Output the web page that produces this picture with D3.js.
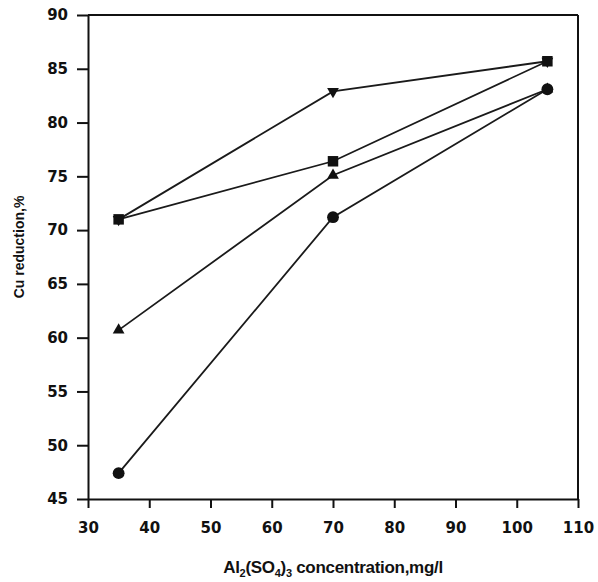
<!DOCTYPE html>
<html>
<head>
<meta charset="utf-8">
<script src="https://cdn.jsdelivr.net/npm/d3@7"></script>
<style>
  html, body { margin: 0; padding: 0; background: #fff; }
  svg { display: block; }
</style>
</head>
<body>
<svg id="chart" width="598" height="582"></svg>
<script>
// ---- data ----
const xValues = [35, 70, 105];
const seriesSquare = [71.0, 76.4, 85.7];
const seriesDownTriangle = [71.0, 82.9, 85.7];
const seriesUpTriangle = [60.7, 75.1, 83.1];
const seriesCircle = [47.4, 71.2, 83.1];
const xTicks = [30, 40, 50, 60, 70, 80, 90, 100, 110];
const yTicks = [45, 50, 55, 60, 65, 70, 75, 80, 85, 90];

const series = [
  { name: "downTriangle", values: seriesDownTriangle, symbol: d3.symbolTriangle, rotate: 180, size: 60 },
  { name: "upTriangle", values: seriesUpTriangle, symbol: d3.symbolTriangle, rotate: 0, size: 60 },
  { name: "square", values: seriesSquare, symbol: d3.symbolSquare, rotate: 0, size: 110 },
  { name: "circle", values: seriesCircle, symbol: d3.symbolCircle, rotate: 0, size: 110 }
];

const svg = d3.select("#chart");
const mLeft = 88, mRight = 578, mTop = 15, mBottom = 499;
const x = d3.scaleLinear().domain([30, 110]).range([mLeft, mRight]);
const y = d3.scaleLinear().domain([45, 90]).range([mBottom, mTop]);

const tickFont = "'DejaVu Sans', sans-serif";
const titleFont = "'Liberation Sans', Arial, sans-serif";

// frame lines (top and right)
svg.append("line").attr("x1", mLeft).attr("x2", mRight).attr("y1", y(90)).attr("y2", y(90))
  .attr("stroke", "#111").attr("stroke-width", 2);
svg.append("line").attr("x1", x(110)).attr("x2", x(110)).attr("y1", mTop).attr("y2", mBottom)
  .attr("stroke", "#111").attr("stroke-width", 2);

// axes
const xAxis = svg.append("g").attr("transform", `translate(0,${mBottom})`)
  .call(d3.axisBottom(x).tickValues(xTicks).tickSize(9).tickPadding(14).tickSizeOuter(0));
const yAxis = svg.append("g").attr("transform", `translate(${mLeft},0)`)
  .call(d3.axisLeft(y).tickValues(yTicks).tickSize(11).tickPadding(9).tickSizeOuter(0));

[xAxis, yAxis].forEach(g => {
  g.select(".domain").attr("stroke", "#111").attr("stroke-width", 2);
  g.selectAll(".tick line").attr("stroke", "#111").attr("stroke-width", 2);
  g.selectAll(".tick text").attr("fill", "#111")
    .style("font-family", tickFont).style("font-size", "15px").style("font-weight", "bold");
});

// lines
const line = d3.line().x((d, i) => x(xValues[i])).y(d => y(d));
series.forEach(s => {
  svg.append("path").datum(s.values).attr("d", line)
    .attr("fill", "none").attr("stroke", "#1a1a1a").attr("stroke-width", 1.8);
});

// markers
series.forEach(s => {
  svg.append("g").selectAll("path").data(s.values).join("path")
    .attr("d", d3.symbol().type(s.symbol).size(s.size))
    .attr("transform", (d, i) => `translate(${x(xValues[i])},${y(d)}) rotate(${s.rotate})`)
    .attr("fill", "#111");
});

// axis titles
svg.append("text")
  .attr("transform", `translate(24,247) rotate(-90)`)
  .attr("text-anchor", "middle")
  .style("font-family", titleFont).style("font-size", "14px").style("font-weight", "bold")
  .attr("fill", "#111")
  .text("Cu reduction,%");

const xt = svg.append("text")
  .attr("x", (mLeft + mRight) / 2).attr("y", 573)
  .attr("text-anchor", "middle")
  .style("font-family", titleFont).style("font-size", "17px").style("font-weight", "bold")
  .style("letter-spacing", "-0.3px")
  .attr("fill", "#111");
xt.append("tspan").text("Al");
xt.append("tspan").attr("dy", 4).style("font-size", "11px").text("2");
xt.append("tspan").attr("dy", -4).text("(SO");
xt.append("tspan").attr("dy", 4).style("font-size", "11px").text("4");
xt.append("tspan").attr("dy", -4).text(")");
xt.append("tspan").attr("dy", 4).style("font-size", "11px").text("3");
xt.append("tspan").attr("dy", -4).text(" concentration,mg/l");
</script>
</body>
</html>
